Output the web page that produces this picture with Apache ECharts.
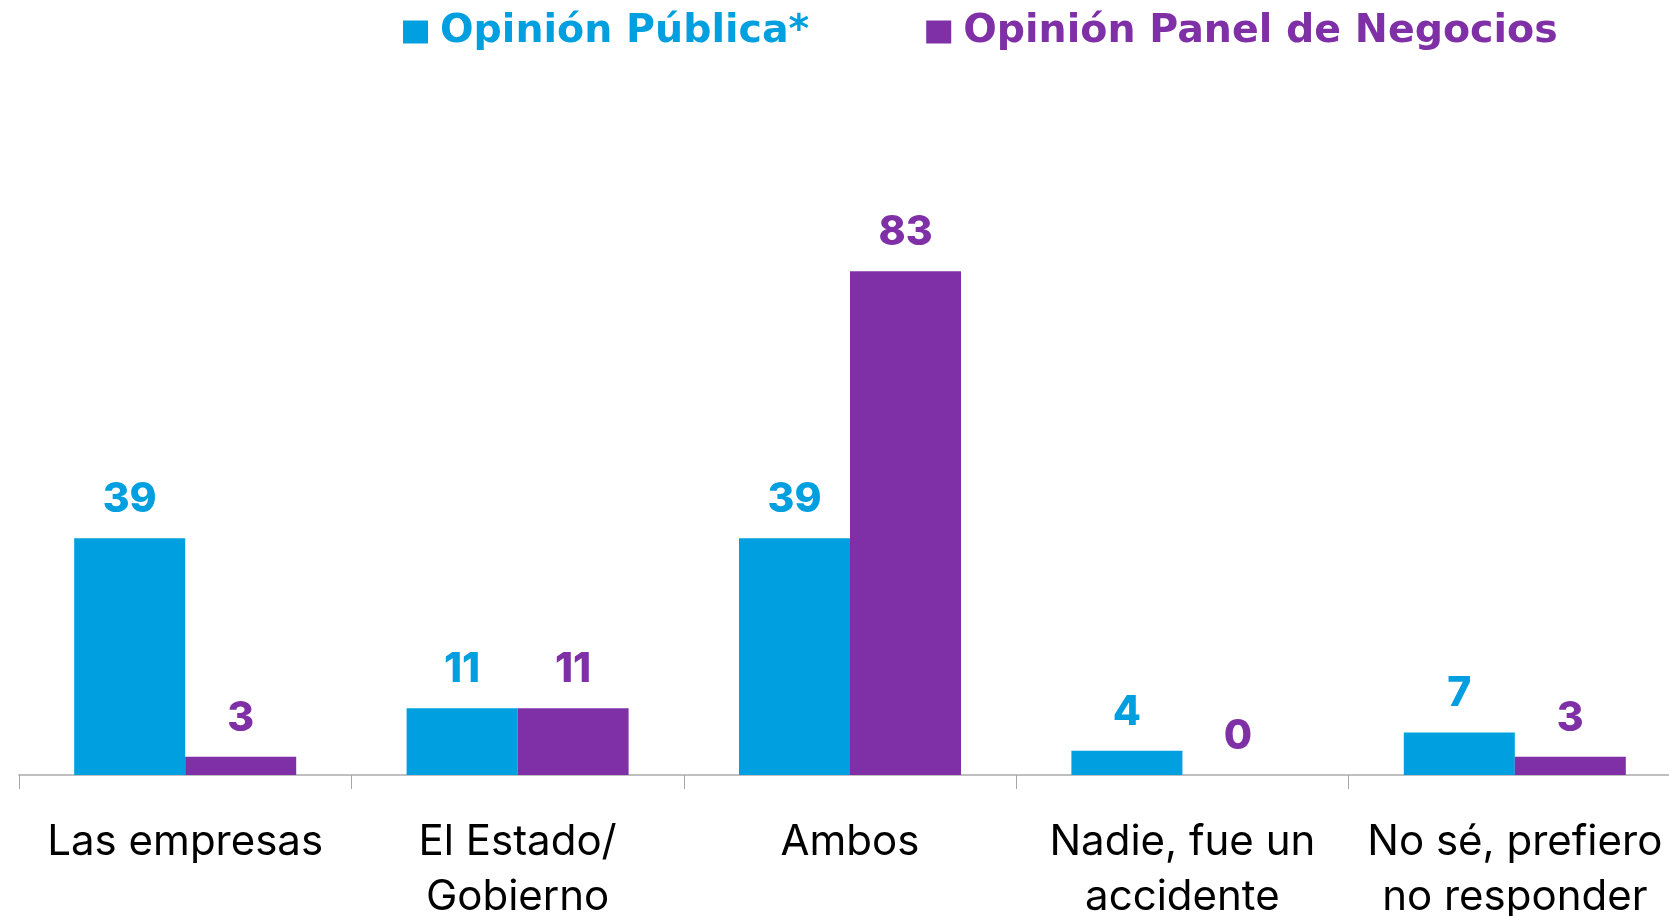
<!DOCTYPE html>
<html>
<head>
<meta charset="utf-8">
<script src="https://cdn.jsdelivr.net/npm/echarts@6/dist/echarts.min.js"></script>
<style>
  html, body { margin: 0; padding: 0; background: #ffffff; }
  #chart { width: 1669px; height: 916px; }
</style>
</head>
<body>
<div id="chart"></div>
<script>
// Categories and answer shares (%)
const categories = [
  'Las empresas',
  'El Estado/\nGobierno',
  'Ambos',
  'Nadie, fue un\naccidente',
  'No sé, prefiero\nno responder'
];
const seriesNames = ['Opinión Pública*', 'Opinión Panel de Negocios'];
const publicOpinion = [39, 11, 39, 4, 7];
const businessPanel = [3, 11, 83, 0, 3];

const BLUE = '#009FDF';
const PURPLE = '#7F30A6';
const FONT = 'Inter, "Noto Sans", sans-serif';
const LEGEND_FONT = '"DejaVu Sans", Inter, sans-serif';

const chart = echarts.init(document.getElementById('chart'));

function barSeries(name, data, color) {
  return {
    name: name,
    type: 'bar',
    data: data,
    barWidth: 111,
    barGap: '0%',
    itemStyle: { color: color },
    label: {
      show: true,
      position: 'top',
      distance: 18,
      color: color,
      fontFamily: FONT,
      fontWeight: 800,
      fontSize: 41,
      lineHeight: 41
    }
  };
}

chart.setOption({
  animation: false,
  backgroundColor: '#ffffff',
  legend: {
    left: 398,
    top: 4,
    itemWidth: 25,
    itemHeight: 23,
    itemGap: 117,
    icon: 'rect',
    textStyle: {
      fontFamily: LEGEND_FONT,
      fontWeight: 'bold',
      fontSize: 39.5,
      lineHeight: 46,
      padding: [0, 0, 0, 7]
    },
    data: [
      { name: seriesNames[0], textStyle: { color: BLUE } },
      { name: seriesNames[1], textStyle: { color: PURPLE } }
    ]
  },
  grid: {
    left: 19,
    right: -12,
    top: 168,
    bottom: 141,
    containLabel: false,
    outerBoundsMode: 'none'
  },
  xAxis: {
    type: 'category',
    data: categories,
    axisLine: { lineStyle: { color: '#BFBFBF', width: 2 } },
    axisTick: { show: true, length: 14, lineStyle: { color: '#A6A6A6', width: 1 } },
    axisLabel: {
      interval: 0,
      margin: 40,
      color: '#000000',
      fontFamily: FONT,
      fontWeight: 400,
      fontSize: 42,
      lineHeight: 55
    }
  },
  yAxis: {
    type: 'value',
    min: 0,
    max: 100,
    show: false,
    splitLine: { show: false }
  },
  series: [
    barSeries(seriesNames[0], publicOpinion, BLUE),
    barSeries(seriesNames[1], businessPanel, PURPLE)
  ]
});
</script>
</body>
</html>
